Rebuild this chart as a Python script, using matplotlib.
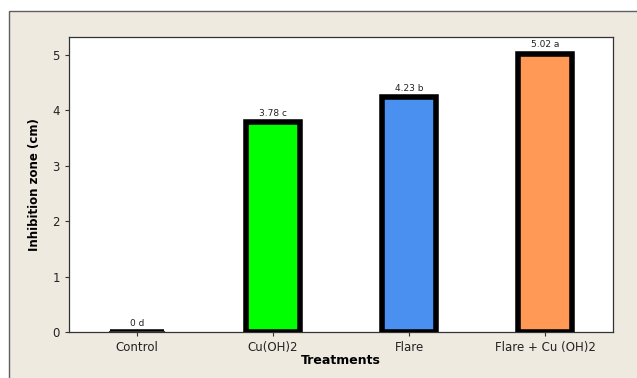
import matplotlib.pyplot as plt
from matplotlib.patches import Rectangle

# data
treatments = ['Control', 'Cu(OH)2', 'Flare', 'Flare + Cu (OH)2']
zones = [0.0, 3.78, 4.23, 5.02]
letters = ['d', 'c', 'b', 'a']
colors = ['#1a1a1a', '#00ff00', '#4a90f0', '#ff9955']

W, H = 637, 378
fig = plt.figure(figsize=(W / 100, H / 100), dpi=100)
fig.patch.set_facecolor('white')

# beige outer panel, kept behind the axes
panel = Rectangle((9 / W, -0.1), 1.2, 1 - 11 / H + 0.1,
                  transform=fig.transFigure, facecolor='#eeeae0',
                  edgecolor='#606060', linewidth=1.0, zorder=-5)
fig.add_artist(panel)

ax = fig.add_axes([69 / W, 1 - 332 / H, (613 - 69) / W, (332 - 37) / H])
ax.set_zorder(1)
ax.set_facecolor('white')

x = range(len(treatments))
ax.bar(x, zones, width=0.4, color=colors, edgecolor='black', linewidth=4, zorder=3)
ax.plot([-0.2, 0.2], [0, 0], color='#333333', linewidth=1.5, zorder=4)

for i, (v, l) in enumerate(zip(zones, letters)):
    lab = '0 d' if v == 0 else f'{v:.2f} {l}'
    ax.text(i, v + 0.08, lab, ha='center', va='bottom', fontsize=6.5, color='#222222')

ax.set_xlim(-0.5, 3.5)
ax.set_ylim(0, 5.32)
ax.set_xticks(list(x))
ax.set_xticklabels(treatments, fontsize=8.5, color='#222222')
ax.set_yticks([0, 1, 2, 3, 4, 5])
ax.tick_params(axis='both', labelsize=8.5, length=3, color='#333333', labelcolor='#222222')
for s in ax.spines.values():
    s.set_color('#333333')
    s.set_linewidth(0.9)

ax.set_xlabel('Treatments', fontsize=9, fontweight='bold', labelpad=0)
ax.set_ylabel('Inhibition zone (cm)', fontsize=8.5, fontweight='bold', labelpad=8)

fig.savefig('out.png', dpi=100)
